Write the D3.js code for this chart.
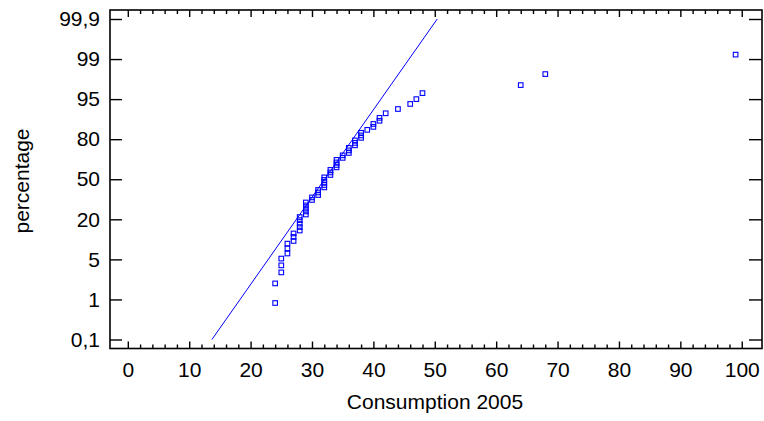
<!DOCTYPE html>
<html>
<head>
<meta charset="utf-8">
<script src="https://cdn.jsdelivr.net/npm/d3@7"></script>
<style>
  html, body { margin: 0; padding: 0; background: #fff; }
  svg text { font-family: "Liberation Sans", Arial, sans-serif; fill: #000; font-size: 21px; }
  svg .tick text { font-size: 21px !important; }
</style>
</head>
<body>
<svg id="chart" width="764" height="421"></svg>
<script>
// Consumption 2005 values (sorted) and their cumulative percentages
const consumption = [24, 24, 25, 25, 25, 26, 26, 26, 27, 27, 27, 28, 28, 28, 28, 28,
  29, 29, 29, 29, 29, 30, 30, 31, 31, 31, 32, 32, 32, 32, 32, 33, 33, 33,
  34, 34, 34, 34, 35, 35, 36, 36, 36, 37, 37, 37, 38, 38, 38, 39, 40, 40,
  41, 41, 42, 44, 46, 47, 48, 64, 68, 99];
const percentage = [0.92, 2.6, 3.7, 4.4, 5.3, 7.2, 9.1, 10.9, 11.9, 13.4, 14.7,
  15.8, 17.1, 18.4, 19.7, 21.7, 23.6, 25.9, 28.1, 30.4, 32.6, 34.5, 36.4,
  38.2, 40.1, 42.0, 43.9, 45.7, 47.6, 49.5, 51.4, 53.2, 55.1, 57.0, 58.9,
  60.7, 62.6, 64.5, 66.0, 67.9, 69.7, 71.6, 73.5, 75.4, 77.2, 79.1, 80.5,
  81.4, 82.4, 83.5, 84.6, 85.7, 86.9, 88.0, 89.7, 91.3, 93.2, 95.0, 95.6,
  96.4, 97.5, 99.1];

// Reference (fitted) line end points
const fitLineX = [13.7, 50.4];
const fitLineP = [0.1, 99.9];

// Axis ticks
const yTickValues = [0.1, 1, 5, 20, 50, 80, 95, 99, 99.9];
const yTickLabels = ["0,1", "1", "5", "20", "50", "80", "95", "99", "99,9"];
const xTickValues = [0, 10, 20, 30, 40, 50, 60, 70, 80, 90, 100];
const xMinorValues = d3.range(0, 101, 2).filter(v => v % 10 !== 0);

const svg = d3.select("#chart");
const plotLeft = 110, plotRight = 762, plotTop = 10, plotBottom = 348.5;
const pad = 9;

const x = d3.scaleLinear().domain([-2.9, 103.3]).range([plotLeft, plotRight]);

// Probability axis: labelled percentages are evenly spaced
const yStep = (plotBottom - plotTop - 2 * pad) / (yTickValues.length - 1);
const y = d3.scaleLinear()
  .domain(yTickValues)
  .range(yTickValues.map((d, i) => plotBottom - pad - i * yStep));

const blue = "#0000ff";

// Data points (open squares)
const sq = 4.6;
svg.append("g").selectAll("rect")
  .data(consumption.map((c, i) => [c, percentage[i]]))
  .join("rect")
  .attr("x", d => x(d[0]) - sq / 2)
  .attr("y", d => y(d[1]) - sq / 2)
  .attr("width", sq)
  .attr("height", sq)
  .attr("fill", "none")
  .attr("stroke", blue)
  .attr("stroke-width", 1.1);

// Fitted line
svg.append("line")
  .attr("x1", x(fitLineX[0])).attr("y1", y(fitLineP[0]))
  .attr("x2", x(fitLineX[1])).attr("y2", y(fitLineP[1]))
  .attr("stroke", blue)
  .attr("stroke-width", 1);

// Axes: ticks point into the plot
function styleAxis(g) {
  g.attr("font-size", 21).attr("font-family", null);
  g.select(".domain").remove();
  g.selectAll(".tick line").attr("stroke", "#000").attr("stroke-width", 1.4);
  g.selectAll(".tick text").attr("font-size", 21).attr("fill", "#000");
}

svg.append("g").attr("transform", `translate(0,${plotBottom})`)
  .call(d3.axisBottom(x).tickValues(xTickValues).tickFormat(d3.format("d"))
    .tickSizeInner(-7).tickSizeOuter(0).tickPadding(14))
  .call(styleAxis);
svg.append("g").attr("transform", `translate(0,${plotBottom})`)
  .call(d3.axisBottom(x).tickValues(xMinorValues).tickFormat("")
    .tickSizeInner(-4).tickSizeOuter(0))
  .call(styleAxis);
svg.append("g").attr("transform", `translate(0,${plotTop})`)
  .call(d3.axisTop(x).tickValues(xTickValues).tickFormat("")
    .tickSizeInner(-7).tickSizeOuter(0))
  .call(styleAxis);
svg.append("g").attr("transform", `translate(0,${plotTop})`)
  .call(d3.axisTop(x).tickValues(xMinorValues).tickFormat("")
    .tickSizeInner(-4).tickSizeOuter(0))
  .call(styleAxis);

svg.append("g").attr("transform", `translate(${plotLeft},0)`)
  .call(d3.axisLeft(y).tickValues(yTickValues)
    .tickFormat((d, i) => yTickLabels[i])
    .tickSizeInner(-12).tickSizeOuter(0).tickPadding(10))
  .call(styleAxis);
svg.append("g").attr("transform", `translate(${plotRight},0)`)
  .call(d3.axisRight(y).tickValues(yTickValues).tickFormat("")
    .tickSizeInner(-13).tickSizeOuter(0))
  .call(styleAxis);

// Frame
svg.append("rect")
  .attr("x", plotLeft).attr("y", plotTop)
  .attr("width", plotRight - plotLeft).attr("height", plotBottom - plotTop)
  .attr("fill", "none").attr("stroke", "#000").attr("stroke-width", 1.6);

// Axis titles
svg.append("text")
  .attr("x", 435).attr("y", 409)
  .attr("text-anchor", "middle")
  .text("Consumption 2005");
svg.append("text")
  .attr("transform", "translate(28.5,181) rotate(-90)")
  .attr("text-anchor", "middle")
  .text("percentage");
</script>
</body>
</html>
